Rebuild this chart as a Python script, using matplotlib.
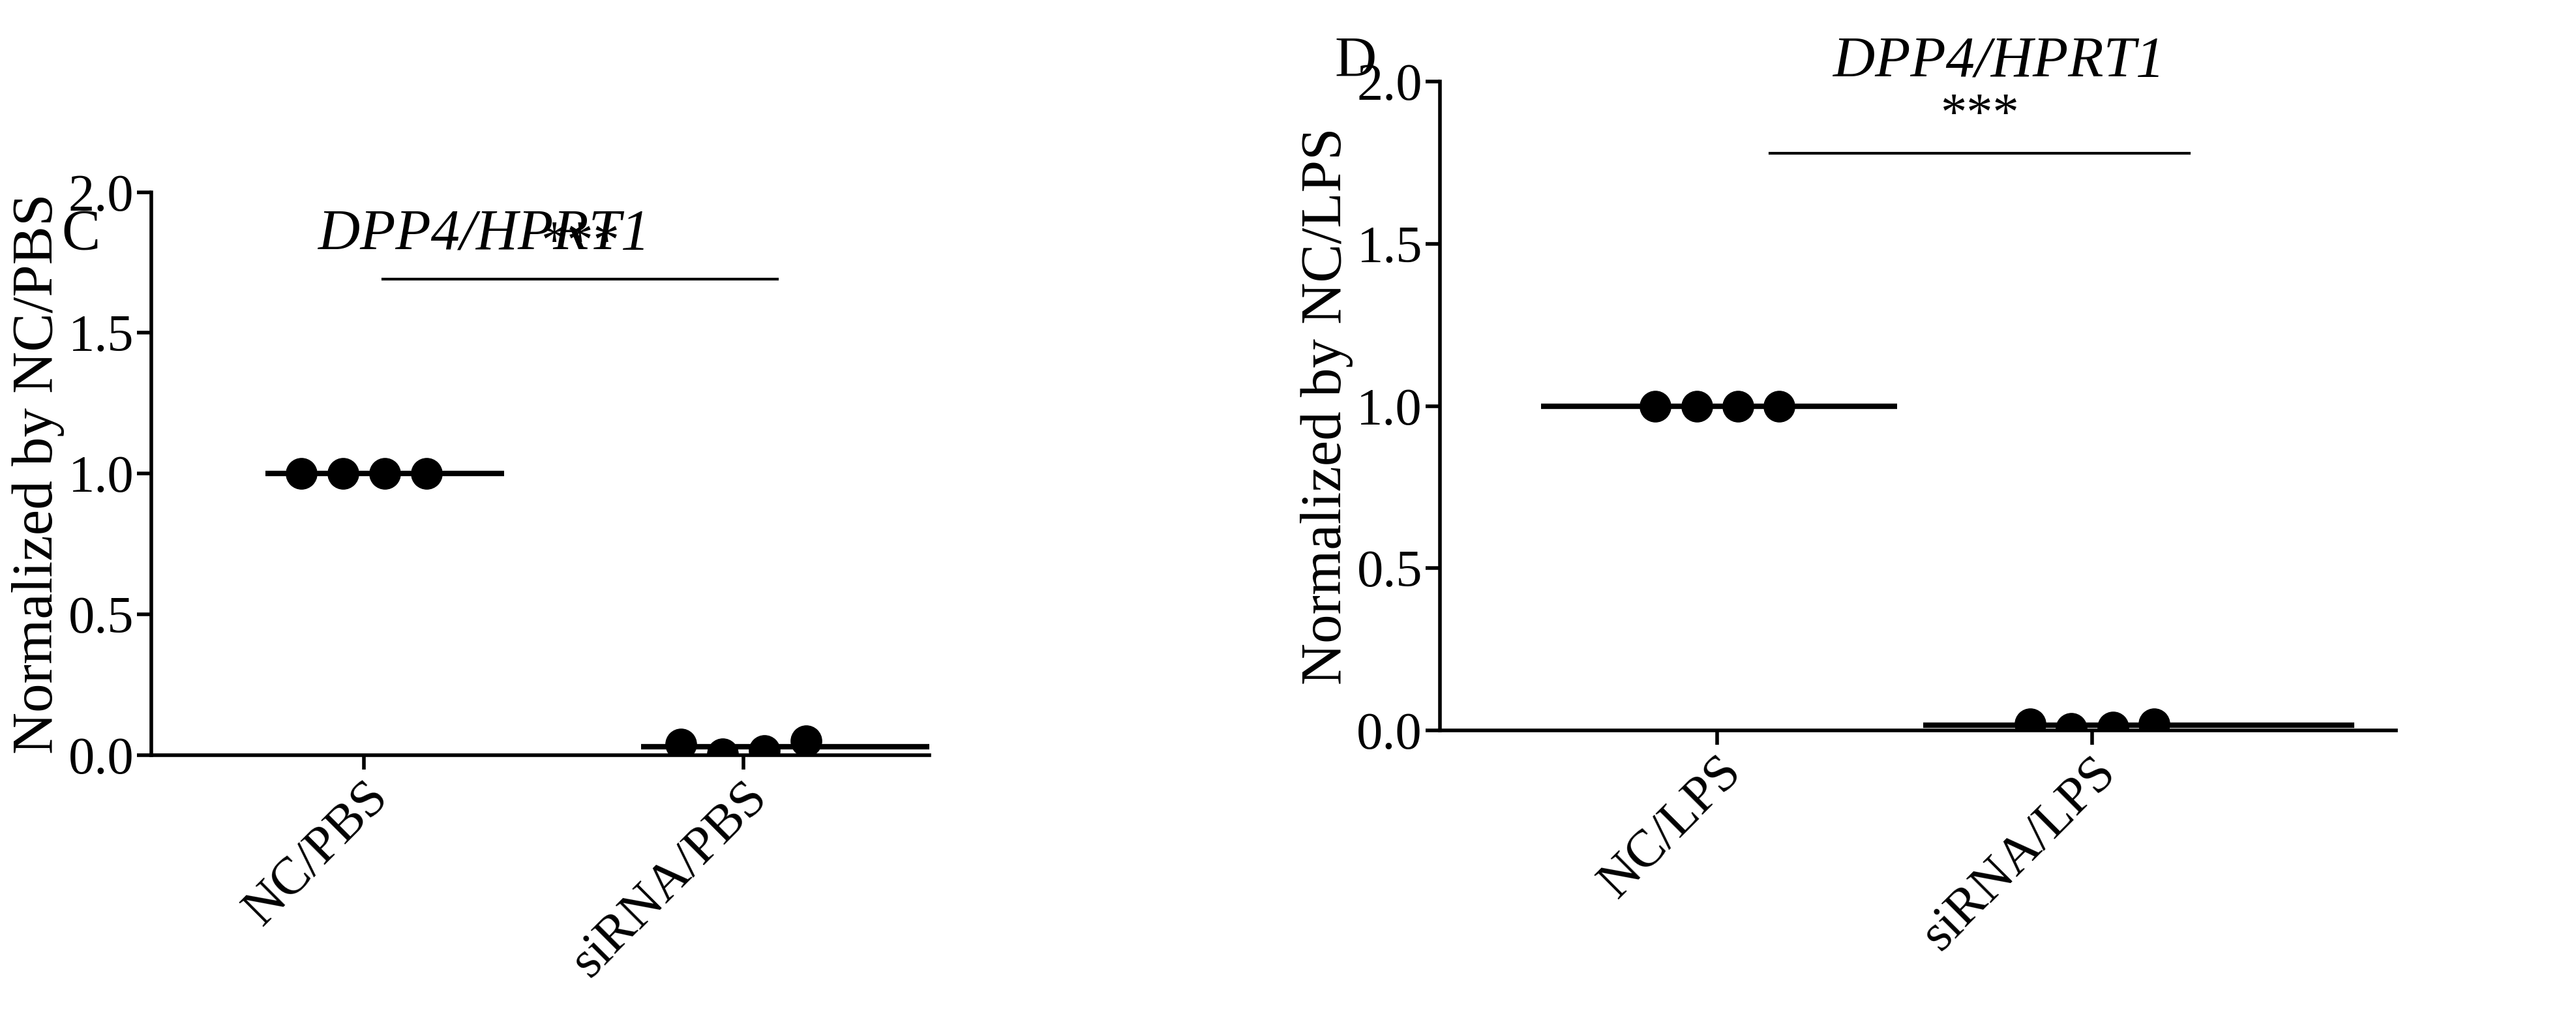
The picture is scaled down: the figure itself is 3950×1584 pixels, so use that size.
import matplotlib
matplotlib.use("Agg")
import matplotlib.pyplot as plt

plt.rcParams['font.family'] = ['Liberation Serif', 'DejaVu Serif']

cats_c = ["NC/PBS", "siRNA/PBS"]
cats_d = ["NC/LPS", "siRNA/LPS"]
nc_pbs = [1.0, 1.0, 1.0, 1.0]
si_pbs = [0.04, 0.005, 0.015, 0.05]
nc_lps = [1.0, 1.0, 1.0, 1.0]
si_lps = [0.02, 0.005, 0.01, 0.02]
mean_c = [1.0, 0.03]
mean_d = [1.0, 0.015]
offsets = [-0.165, -0.055, 0.055, 0.165]
yticks = [0.0, 0.5, 1.0, 1.5, 2.0]

fig = plt.figure(figsize=(39.5, 15.84), dpi=100)
axC = fig.add_axes([0.0588, 0.269, 0.302, 0.545])
axD = fig.add_axes([0.559, 0.293, 0.371, 0.628])

def panel(ax, cats, groups, means, mean_spans, xlim, ylabel, sig_y, sig_span, letter, letter_pos, title_pos):
    for i, (g, m, sp) in enumerate(zip(groups, means, mean_spans)):
        ax.plot([i + sp[0], i + sp[1]], [m, m], color='black', lw=6, solid_capstyle='butt', zorder=2)
        ax.plot([i + o for o in offsets], g, 'o', color='black', ms=34, zorder=3)
    ax.plot(sig_span, [sig_y, sig_y], color='black', lw=3)
    ax.text(sum(sig_span) / 2, sig_y + 0.04, "***", ha='center', va='bottom', fontsize=58)
    ax.set_xlim(*xlim)
    ax.set_ylim(0, 2.0)
    ax.set_yticks(yticks)
    ax.set_yticklabels([f"{v:.1f}" for v in yticks])
    ax.set_xticks(range(len(cats)))
    ax.set_xticklabels(cats, rotation=45, ha='right', rotation_mode='anchor')
    ax.tick_params(labelsize=58, width=4, length=16)
    for s in ['top', 'right']:
        ax.spines[s].set_visible(False)
    for s in ['left', 'bottom']:
        ax.spines[s].set_linewidth(4)
    ax.set_ylabel(ylabel, fontsize=64)
    fig.text(letter_pos[0], letter_pos[1], letter, fontsize=64, ha='left', va='center')
    fig.text(title_pos[0], title_pos[1], "DPP4/HPRT1", fontsize=64, style='italic', ha='center', va='center')

panel(axC, cats_c, [nc_pbs, si_pbs], mean_c, [(-0.26, 0.37), (-0.27, 0.49)],
      (-0.56, 1.49), "Normalized by NC/PBS", 1.69, (0.05, 1.09), "C", (0.024, 0.773), (0.188, 0.773))
panel(axD, cats_d, [nc_lps, si_lps], mean_d, [(-0.47, 0.48), (-0.45, 0.70)],
      (-0.74, 1.81), "Normalized by NC/LPS", 1.78, (0.14, 1.26), "D", (0.518, 0.94), (0.776, 0.94))

fig.savefig("out.png", dpi=100)
